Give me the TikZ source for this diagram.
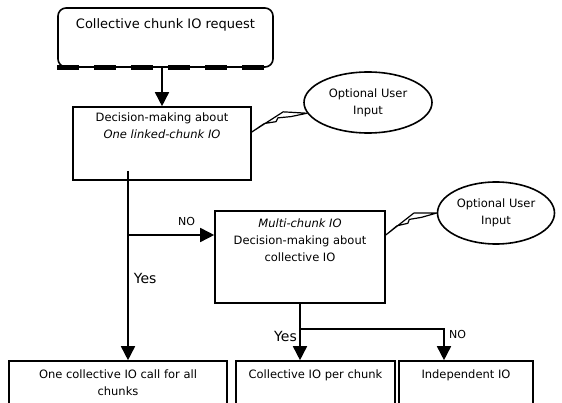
\documentclass[tikz,border=0pt]{standalone}
\usepackage{fontspec}
\setmainfont{DejaVu Sans}
\usetikzlibrary{arrows.meta,calc,shapes.geometric}

% lightning connector between two points
\newcommand{\boltline}[2]{%
  \draw[line width=1.2pt, line join=round]
    (#1) -- ($(#1)!0.62!(#2)!9pt!90:(#2)$) -- (#2)
    -- ($(#1)!0.72!(#2)!2pt!90:(#2)$) -- ($(#1)!0.5!(#2)!5pt!90:(#2)$)
    -- ($(#1)!0.45!(#2)!2pt!90:(#2)$) -- ($(#1)!0.25!(#2)!4pt!90:(#2)$) -- cycle;}

\begin{document}
\begin{tikzpicture}[x=1pt, y=1pt,
  box/.style = {draw, line width=1.6pt, inner sep=0pt},
  boxtext/.style = {anchor=north, align=center, inner sep=0pt, font=\fontsize{11.5}{17}\selectfont},
  bubble/.style = {draw, ellipse, line width=1.6pt, inner sep=0pt, align=center, font=\fontsize{11.5}{17}\selectfont},
  flow/.style = {line width=1.6pt, -{Triangle[width=14pt,length=14pt]}},
  answer/.style = {inner sep=0pt, font=\fontsize{14}{16}\selectfont},
  smallanswer/.style = {inner sep=0pt, font=\fontsize{11}{13}\selectfont}]
            \useasboundingbox (0,0) rectangle (562,402);
            \clip (0,0) rectangle (562,402);

            \node[box, rounded corners=8pt, minimum width=215pt, minimum height=59pt,
              label={[boxtext, font=\fontsize{13}{16}\selectfont, yshift=-11pt]north:Collective chunk IO request}]
              (req) at (165.5,364.5) {};
            \draw[line width=5pt, dash pattern=on 22pt off 15pt] (req.south west) -- (req.south east);

            \node[box, minimum width=178pt, minimum height=73pt,
              label={[boxtext, yshift=-6pt]north:Decision-making about\\\textit{One linked-chunk IO}}]
              (link) at (162,258.5) {};

            \node[box, minimum width=170pt, minimum height=92pt,
              label={[boxtext, yshift=-8pt]north:\textit{Multi-chunk IO}\\Decision-making about\\collective IO}]
              (multi) at (300,145) {};

            \node[box, minimum width=218pt, minimum height=50pt,
              label={[boxtext, yshift=-9pt]north:One collective IO call for all\\chunks}]
              (allio) at (118,16) {};
            \node[box, minimum width=159pt, minimum height=50pt,
              label={[boxtext, yshift=-9pt]north:Collective IO per chunk}]
              (perchunk) at (315.5,16) {};
            \node[box, minimum width=134pt, minimum height=50pt,
              label={[boxtext, yshift=-9pt]north:Independent IO}]
              (indep) at (466,16) {};

            \node[bubble, minimum width=128pt, minimum height=61pt] (ell1) at (368,299.5) {Optional User\\Input};
            \node[bubble, minimum width=117pt, minimum height=62pt] (ell2) at (496,189) {Optional User\\Input};

            \coordinate (nob) at (128,167);
            \coordinate (split) at (300,73);
            \coordinate (nosplit) at (444,73);

            \draw[flow] (req.south -| link.north) -- (link.north);

            \draw[flow] ($(link.south -| nob)+(0,10)$) -- (nob)
              -- node[answer, pos=0.35, right=5pt]{Yes} (nob |- allio.north);
            \draw[flow] (nob) -- node[smallanswer, pos=0.68, above=9pt]{NO} (nob -| multi.west);

            \draw[flow] (multi.south) -- (split) -- (split |- perchunk.north);
            \draw[flow] (split) -- (nosplit) -- (nosplit |- indep.north);
            \node[answer, anchor=north east] (yes2) at ($(split)+(-3,-2)$) {Yes};
            \node[smallanswer, anchor=north west] (no2) at ($(nosplit)+(5,-1)$) {NO};

            \coordinate (z1) at ($(link.east)+(0,11.5)$);
            \coordinate (z2) at ($(multi.east)+(0,22)$);
            \boltline{z1}{ell1.190}
            \boltline{z2}{ell2.west}
        \end{tikzpicture}
\end{document}
